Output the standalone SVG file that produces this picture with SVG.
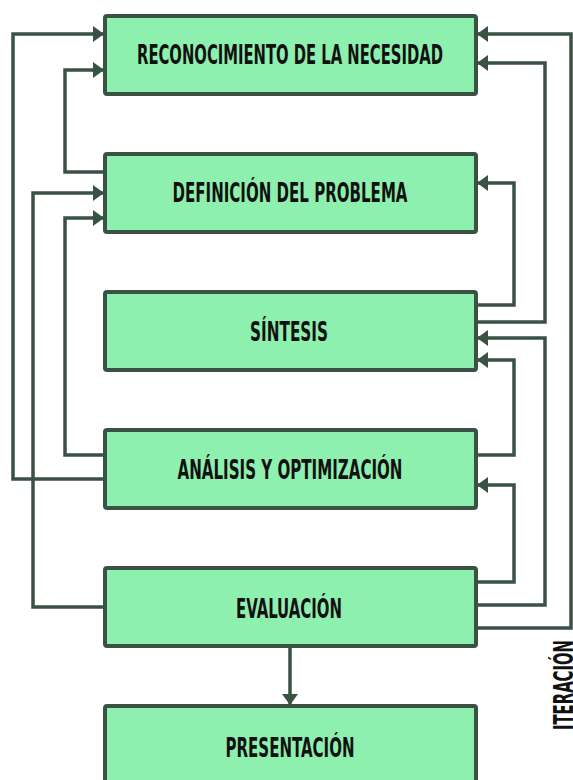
<svg xmlns="http://www.w3.org/2000/svg" width="573" height="780" viewBox="0 0 573 780">
<style>
.box{fill:#8ef0ae;stroke:#3a5244;stroke-width:4;}
.lbl{font-family:"Liberation Sans Narrow","DejaVu Sans Condensed","Liberation Sans",sans-serif;font-weight:bold;font-size:27px;fill:#111;text-anchor:middle;}
.con{fill:none;stroke:#3a5244;stroke-width:3.5;stroke-linejoin:miter;}
</style>
<defs>
<marker id="ah" markerUnits="userSpaceOnUse" markerWidth="11" markerHeight="16" viewBox="0 0 11 16" refX="10" refY="8" orient="auto">
<path d="M0,0 L11,8 L0,16 z" fill="#3a5244"/>
</marker>
</defs>
<rect width="573" height="780" fill="#ffffff"/>
<g id="connectors">
<path class="con" marker-end="url(#ah)" d="M104,479 H13 V34 H103"/>
<path class="con" marker-end="url(#ah)" d="M104,172 H65 V70 H103"/>
<path class="con" marker-end="url(#ah)" d="M104,607 H33 V193 H103"/>
<path class="con" marker-end="url(#ah)" d="M104,455 H65 V218 H103"/>
<path class="con" marker-end="url(#ah)" d="M477,628 H571 V34 H478"/>
<path class="con" marker-end="url(#ah)" d="M477,322 H545 V63 H478"/>
<path class="con" marker-end="url(#ah)" d="M477,305 H514 V183 H478"/>
<path class="con" marker-end="url(#ah)" d="M477,605 H545 V338 H478"/>
<path class="con" marker-end="url(#ah)" d="M477,455 H514 V360 H478"/>
<path class="con" marker-end="url(#ah)" d="M477,582 H514 V485 H478"/>
<path class="con" marker-end="url(#ah)" d="M290,647 V704"/>
</g>
<g id="n1"><rect class="box" x="105" y="16" width="371" height="78" rx="2"/><text class="lbl" x="290" y="64" textLength="306" lengthAdjust="spacingAndGlyphs">RECONOCIMIENTO DE LA NECESIDAD</text></g>
<g id="n2"><rect class="box" x="105" y="154" width="371" height="78" rx="2"/><text class="lbl" x="290" y="202" textLength="235" lengthAdjust="spacingAndGlyphs">DEFINICIÓN DEL PROBLEMA</text></g>
<g id="n3"><rect class="box" x="105" y="292" width="371" height="78" rx="2"/><text class="lbl" x="289" y="341" textLength="78" lengthAdjust="spacingAndGlyphs">SÍNTESIS</text></g>
<g id="n4"><rect class="box" x="105" y="430" width="371" height="78" rx="2"/><text class="lbl" x="290" y="479" textLength="225" lengthAdjust="spacingAndGlyphs">ANÁLISIS Y OPTIMIZACIÓN</text></g>
<g id="n5"><rect class="box" x="105" y="568" width="371" height="78" rx="2"/><text class="lbl" x="289" y="618" textLength="106" lengthAdjust="spacingAndGlyphs">EVALUACIÓN</text></g>
<g id="n6"><rect class="box" x="105" y="706" width="371" height="78" rx="2"/><text class="lbl" x="290" y="757" textLength="129" lengthAdjust="spacingAndGlyphs">PRESENTACIÓN</text></g>
<g id="iteracion"><text class="lbl" transform="translate(573,685) rotate(-90)" x="0" y="0" textLength="90" lengthAdjust="spacingAndGlyphs">ITERACIÓN</text></g>
</svg>
